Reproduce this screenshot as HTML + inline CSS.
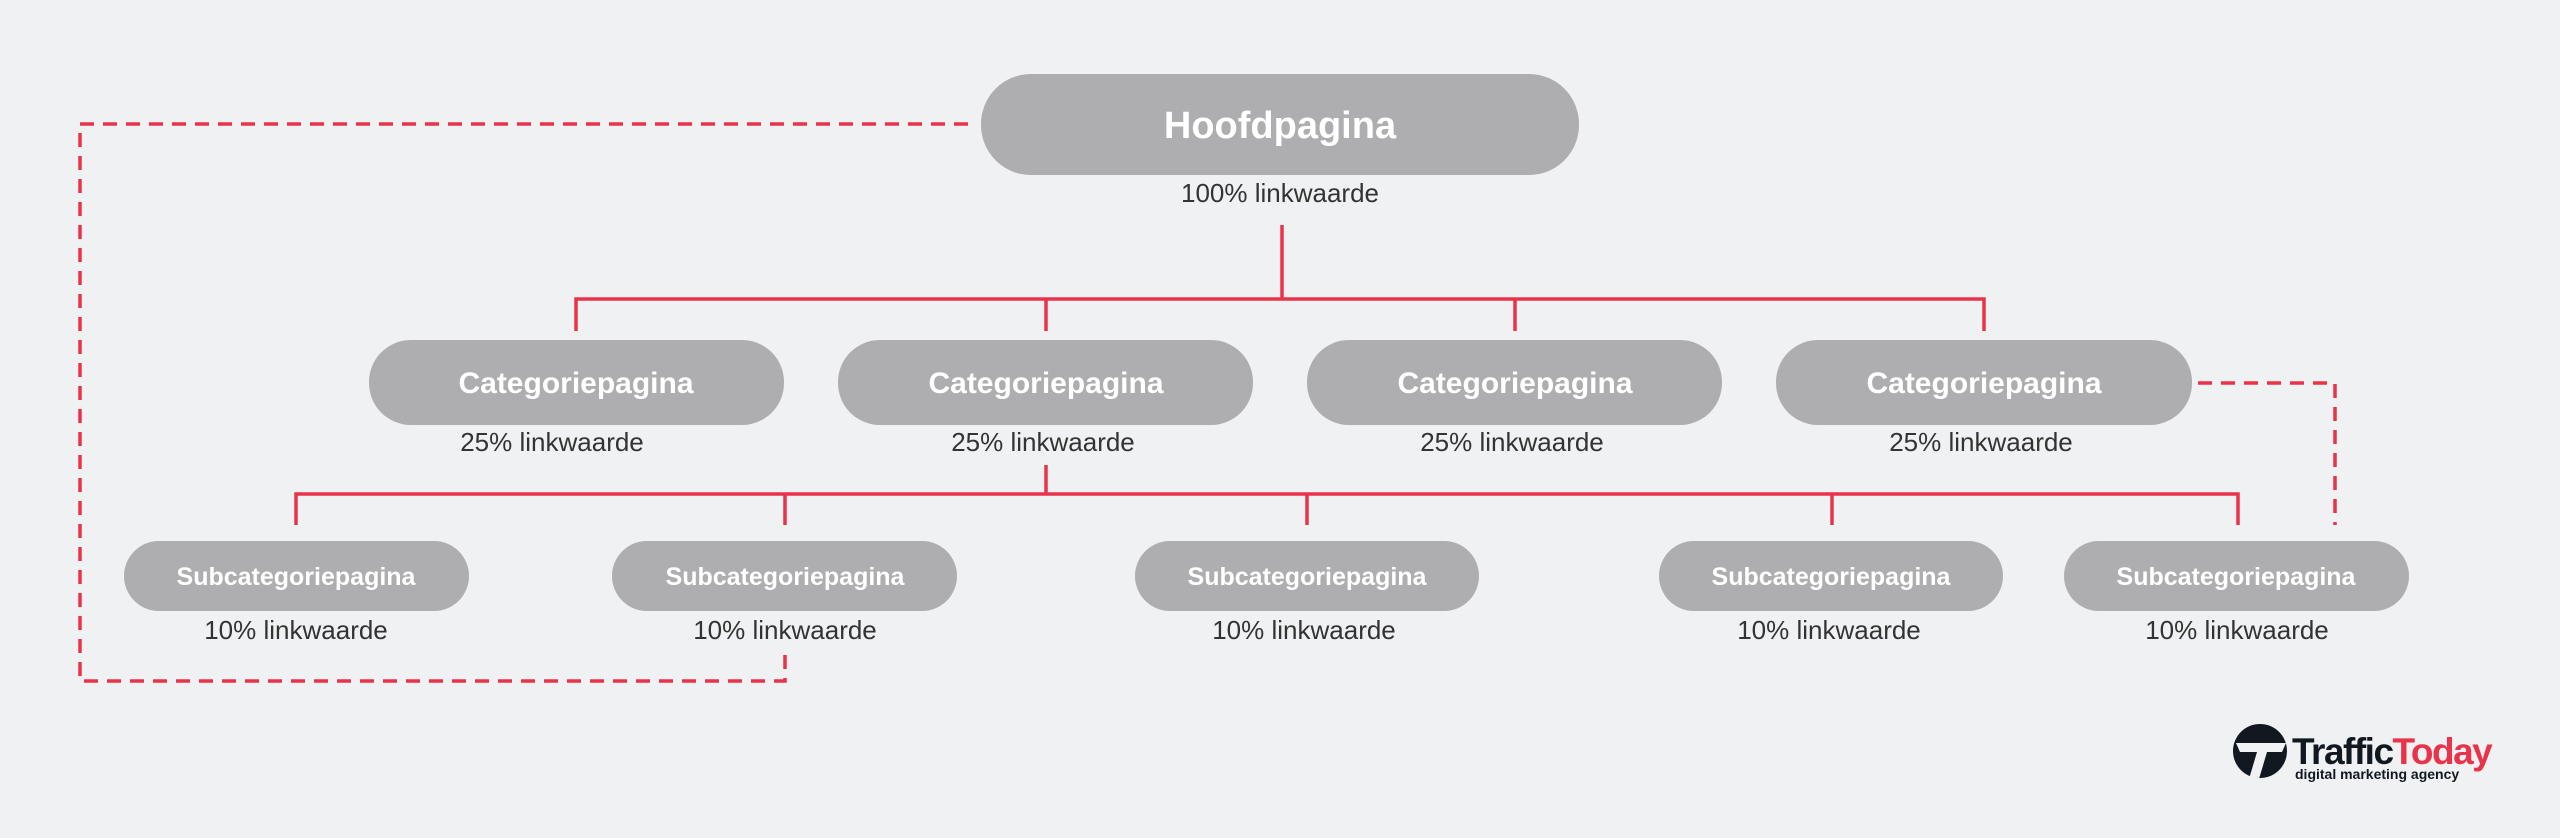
<!DOCTYPE html>
<html><head><meta charset="utf-8"><style>
html,body{margin:0;padding:0;background:#f0f1f3;}
svg{display:block}
</style></head><body>
<svg width="2560" height="838" viewBox="0 0 2560 838" xmlns="http://www.w3.org/2000/svg" font-family="Liberation Sans, sans-serif">
<rect width="2560" height="838" fill="#f0f1f3"/>
<g stroke="#e8334a" stroke-width="3.5" fill="none">
<path d="M1282 225V299M576 331V299H1984V331M1046 299V331M1515 299V331"/>
<path d="M1046 465V494M296 525V494H2238V525M785 494V525M1307 494V525M1832 494V525"/>
<g stroke-dasharray="14 9">
<path d="M968 124H80V681H785V647"/>
<path d="M2198 383H2335V525"/>
</g>
</g>
<g fill="#aeadaf">
<rect x="981" y="74" width="598" height="101" rx="50"/>
<rect x="369" y="340" width="415" height="85" rx="42"/>
<rect x="838" y="340" width="415" height="85" rx="42"/>
<rect x="1307" y="340" width="415" height="85" rx="42"/>
<rect x="1776" y="340" width="416" height="85" rx="42"/>
<rect x="124" y="541" width="345" height="70" rx="35"/>
<rect x="612" y="541" width="345" height="70" rx="35"/>
<rect x="1135" y="541" width="344" height="70" rx="35"/>
<rect x="1659" y="541" width="344" height="70" rx="35"/>
<rect x="2064" y="541" width="345" height="70" rx="35"/>
</g>
<g fill="#fff" font-weight="bold" text-anchor="middle">
<text x="1280" y="138" font-size="38">Hoofdpagina</text>
<g font-size="30"><text x="576" y="393">Categoriepagina</text><text x="1046" y="393">Categoriepagina</text><text x="1515" y="393">Categoriepagina</text><text x="1984" y="393">Categoriepagina</text></g>
<g font-size="25"><text x="296" y="585">Subcategoriepagina</text><text x="785" y="585">Subcategoriepagina</text><text x="1307" y="585">Subcategoriepagina</text><text x="1831" y="585">Subcategoriepagina</text><text x="2236" y="585">Subcategoriepagina</text></g>
</g>
<g fill="#333" text-anchor="middle" font-size="26">
<text x="1280" y="202">100% linkwaarde</text>
<text x="552" y="451">25% linkwaarde</text><text x="1043" y="451">25% linkwaarde</text><text x="1512" y="451">25% linkwaarde</text><text x="1981" y="451">25% linkwaarde</text>
<text x="296" y="639">10% linkwaarde</text><text x="785" y="639">10% linkwaarde</text><text x="1304" y="639">10% linkwaarde</text><text x="1829" y="639">10% linkwaarde</text><text x="2237" y="639">10% linkwaarde</text>
</g>
<g>
<circle cx="2260" cy="751" r="27" fill="#111820"/>
<path d="M2236 743H2286L2282 752H2267L2259 779H2249L2257 752H2240Z" fill="#f0f1f3"/>
<text x="2292" y="764" font-size="37" font-weight="bold" fill="#111820" letter-spacing="-1.5">Traffic<tspan fill="#e8334a">Today</tspan></text>
<text x="2295" y="779" font-size="14" font-weight="bold" fill="#111820">digital marketing agency</text>
</g>
</svg>
</body></html>
